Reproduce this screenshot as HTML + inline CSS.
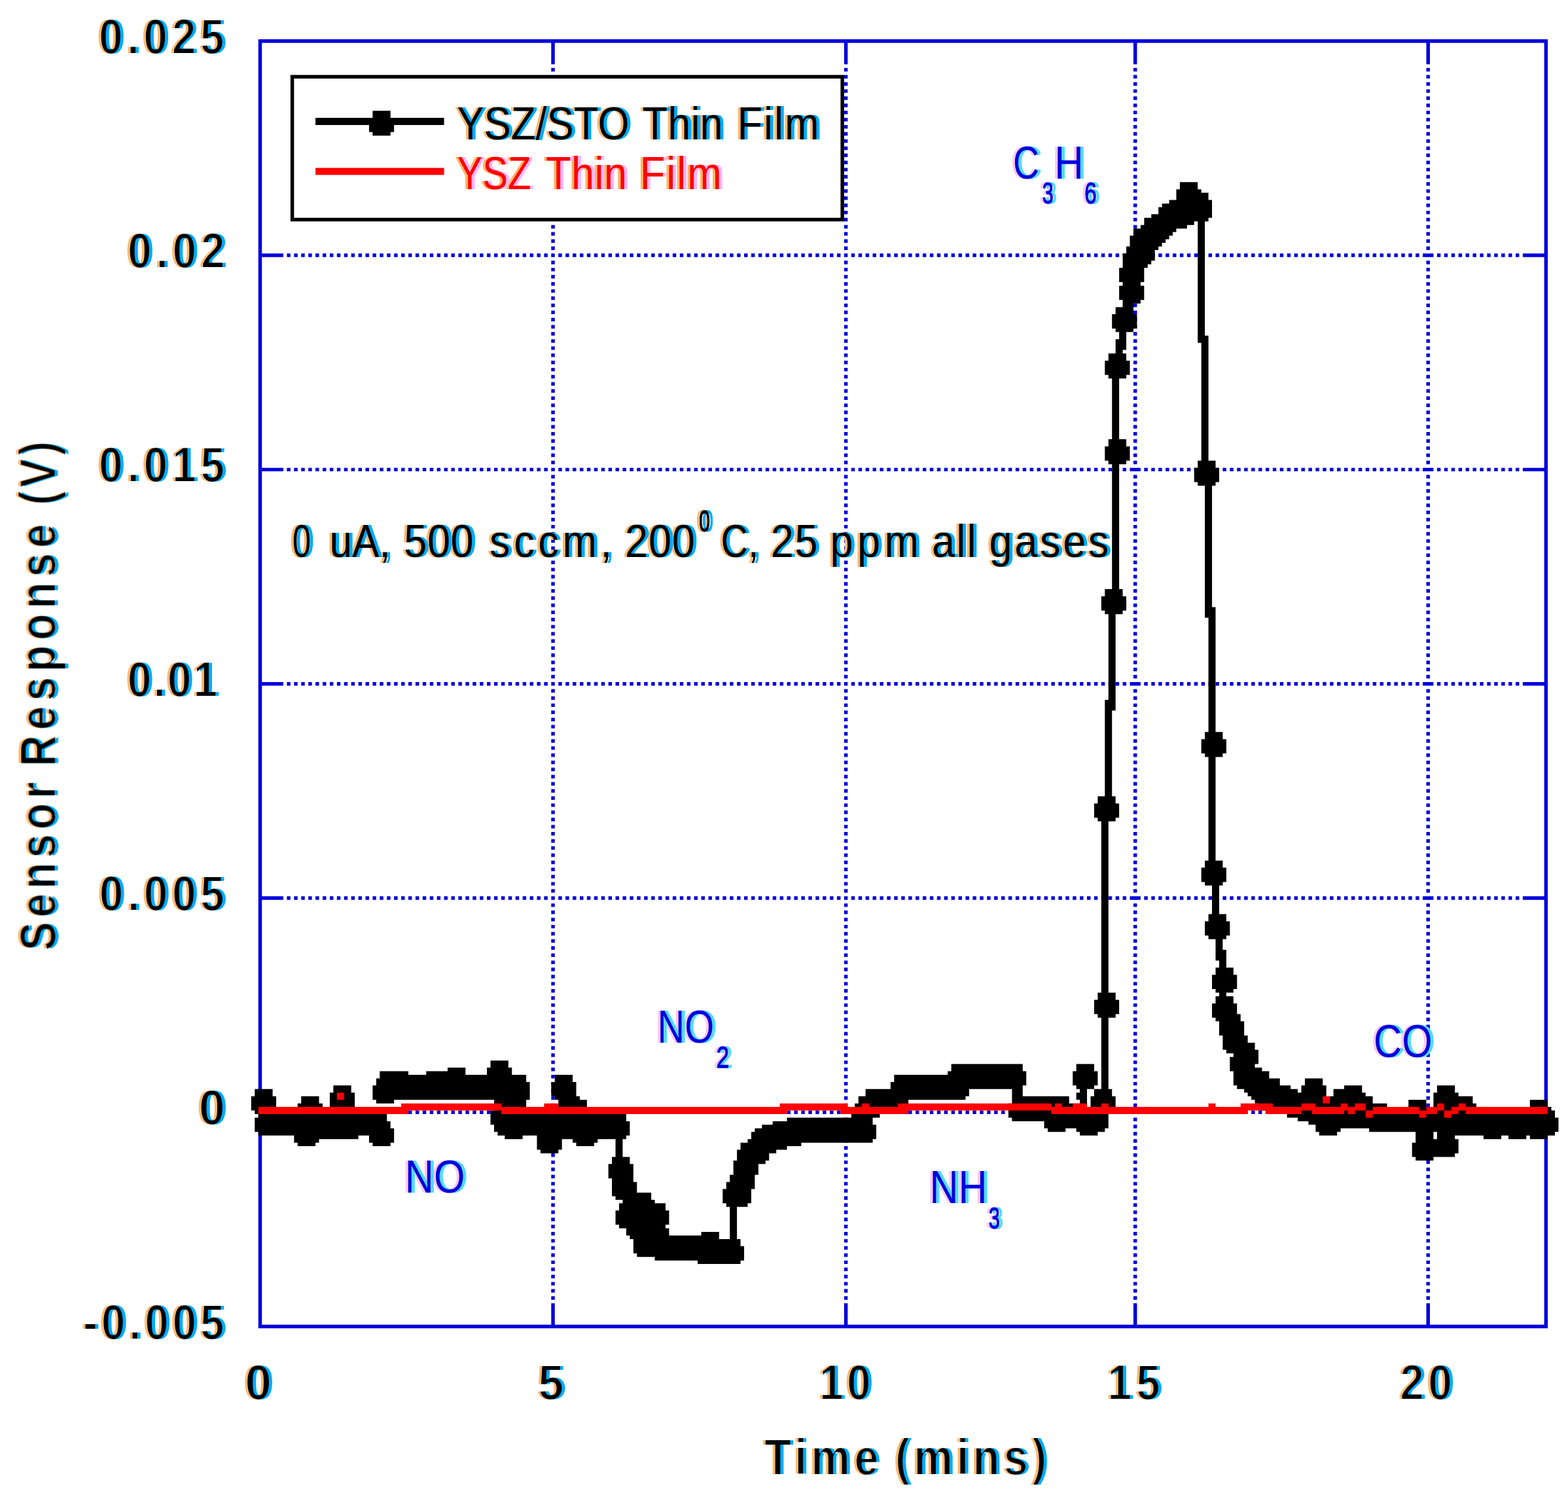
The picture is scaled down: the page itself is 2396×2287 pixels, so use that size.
<!DOCTYPE html>
<html lang="en">
<head>
<meta charset="utf-8">
<title>Sensor Response vs Time</title>
<style>
html, body { margin: 0; padding: 0; background: #fff; }
body { width: 2396px; height: 2287px; }
svg { display: block; }
text { white-space: pre; }
</style>
</head>
<body>
<svg width="2396" height="2287" viewBox="0 0 2396 2287">
<rect x="0" y="0" width="2396" height="2287" fill="#fff"/>
<g transform="translate(1.77,0.03) scale(5.458,5.455)">
<path fill="#0000dc" d="M72 11h361v1h-361zM72 12h1v59h-1zM154 12h1v6h-1zM236 12h1v6h-1zM317 12h1v6h-1zM399 12h1v6h-1zM432 12h1v59h-1zM154 19h1v1h-1zM236 19h1v1h-1zM317 19h1v1h-1zM399 19h1v1h-1zM236 21h1v1h-1zM317 21h1v1h-1zM399 21h1v1h-1zM236 23h1v1h-1zM317 23h1v1h-1zM399 23h1v1h-1zM236 25h1v1h-1zM317 25h1v1h-1zM399 25h1v1h-1zM236 27h1v1h-1zM317 27h1v1h-1zM399 27h1v1h-1zM236 29h1v1h-1zM317 29h1v1h-1zM399 29h1v1h-1zM236 31h1v1h-1zM317 31h1v1h-1zM399 31h1v1h-1zM236 33h1v1h-1zM317 33h1v1h-1zM399 33h1v1h-1zM236 35h1v1h-1zM317 35h1v1h-1zM399 35h1v1h-1zM236 37h1v1h-1zM317 37h1v1h-1zM399 37h1v1h-1zM236 39h1v1h-1zM317 39h1v1h-1zM399 39h1v1h-1zM236 41h1v1h-1zM317 41h1v1h-1zM399 41h1v1h-1zM236 43h1v1h-1zM317 43h1v1h-1zM399 43h1v1h-1zM236 45h1v1h-1zM317 45h1v1h-1zM399 45h1v1h-1zM236 47h1v1h-1zM317 47h1v1h-1zM399 47h1v1h-1zM236 49h1v1h-1zM317 49h1v1h-1zM399 49h1v1h-1zM236 51h1v1h-1zM317 51h1v1h-1zM399 51h1v1h-1zM236 53h1v1h-1zM317 53h1v1h-1zM399 53h1v1h-1zM236 55h1v1h-1zM317 55h1v1h-1zM399 55h1v1h-1zM236 57h1v1h-1zM317 57h1v1h-1zM399 57h1v1h-1zM236 59h1v1h-1zM317 59h1v1h-1zM399 59h1v1h-1zM236 61h1v1h-1zM317 61h1v1h-1zM399 61h1v1h-1zM154 63h1v1h-1zM236 63h1v1h-1zM317 63h1v1h-1zM399 63h1v1h-1zM154 65h1v1h-1zM236 65h1v1h-1zM317 65h1v1h-1zM399 65h1v1h-1zM154 67h1v1h-1zM236 67h1v1h-1zM317 67h1v1h-1zM399 67h1v1h-1zM154 69h1v1h-1zM236 69h1v1h-1zM317 69h1v1h-1zM399 69h1v1h-1zM72 71h7v1h-7zM80 71h1v1h-1zM82 71h1v1h-1zM84 71h1v1h-1zM86 71h1v1h-1zM88 71h1v1h-1zM90 71h1v1h-1zM92 71h1v1h-1zM94 71h1v1h-1zM96 71h1v1h-1zM98 71h1v1h-1zM100 71h1v1h-1zM102 71h1v1h-1zM104 71h1v1h-1zM106 71h1v1h-1zM108 71h1v1h-1zM110 71h1v1h-1zM112 71h1v1h-1zM114 71h1v1h-1zM116 71h1v1h-1zM118 71h1v1h-1zM120 71h1v1h-1zM122 71h1v1h-1zM124 71h1v1h-1zM126 71h1v1h-1zM128 71h1v1h-1zM130 71h1v1h-1zM132 71h1v1h-1zM134 71h1v1h-1zM136 71h1v1h-1zM138 71h1v1h-1zM140 71h1v1h-1zM142 71h1v1h-1zM144 71h1v1h-1zM146 71h1v1h-1zM148 71h1v1h-1zM150 71h1v1h-1zM152 71h1v1h-1zM154 71h1v1h-1zM156 71h1v1h-1zM158 71h1v1h-1zM160 71h1v1h-1zM162 71h1v1h-1zM164 71h1v1h-1zM166 71h1v1h-1zM168 71h1v1h-1zM170 71h1v1h-1zM172 71h1v1h-1zM174 71h1v1h-1zM176 71h1v1h-1zM178 71h1v1h-1zM180 71h1v1h-1zM182 71h1v1h-1zM184 71h1v1h-1zM186 71h1v1h-1zM188 71h1v1h-1zM190 71h1v1h-1zM192 71h1v1h-1zM194 71h1v1h-1zM196 71h1v1h-1zM198 71h1v1h-1zM200 71h1v1h-1zM202 71h1v1h-1zM204 71h1v1h-1zM206 71h1v1h-1zM208 71h1v1h-1zM210 71h1v1h-1zM212 71h1v1h-1zM214 71h1v1h-1zM216 71h1v1h-1zM218 71h1v1h-1zM220 71h1v1h-1zM222 71h1v1h-1zM224 71h1v1h-1zM226 71h1v1h-1zM228 71h1v1h-1zM230 71h1v1h-1zM232 71h1v1h-1zM234 71h1v1h-1zM236 71h1v1h-1zM238 71h1v1h-1zM240 71h1v1h-1zM242 71h1v1h-1zM244 71h1v1h-1zM246 71h1v1h-1zM248 71h1v1h-1zM250 71h1v1h-1zM252 71h1v1h-1zM254 71h1v1h-1zM256 71h1v1h-1zM258 71h1v1h-1zM260 71h1v1h-1zM262 71h1v1h-1zM264 71h1v1h-1zM266 71h1v1h-1zM268 71h1v1h-1zM270 71h1v1h-1zM272 71h1v1h-1zM274 71h1v1h-1zM276 71h1v1h-1zM278 71h1v1h-1zM280 71h1v1h-1zM282 71h1v1h-1zM284 71h1v1h-1zM286 71h1v1h-1zM288 71h1v1h-1zM290 71h1v1h-1zM292 71h1v1h-1zM294 71h1v1h-1zM296 71h1v1h-1zM298 71h1v1h-1zM300 71h1v1h-1zM302 71h1v1h-1zM304 71h1v1h-1zM306 71h1v1h-1zM308 71h1v1h-1zM310 71h1v1h-1zM312 71h1v1h-1zM314 71h1v1h-1zM316 71h3v1h-3zM320 71h1v1h-1zM322 71h1v1h-1zM324 71h1v1h-1zM326 71h1v1h-1zM328 71h1v1h-1zM330 71h1v1h-1zM332 71h1v1h-1zM334 71h1v1h-1zM336 71h1v1h-1zM338 71h1v1h-1zM340 71h1v1h-1zM342 71h1v1h-1zM344 71h1v1h-1zM346 71h1v1h-1zM348 71h1v1h-1zM350 71h1v1h-1zM352 71h1v1h-1zM354 71h1v1h-1zM356 71h1v1h-1zM358 71h1v1h-1zM360 71h1v1h-1zM362 71h1v1h-1zM364 71h1v1h-1zM366 71h1v1h-1zM368 71h1v1h-1zM370 71h1v1h-1zM372 71h1v1h-1zM374 71h1v1h-1zM376 71h1v1h-1zM378 71h1v1h-1zM380 71h1v1h-1zM382 71h1v1h-1zM384 71h1v1h-1zM386 71h1v1h-1zM388 71h1v1h-1zM390 71h1v1h-1zM392 71h1v1h-1zM394 71h1v1h-1zM396 71h1v1h-1zM398 71h3v1h-3zM402 71h1v1h-1zM404 71h1v1h-1zM406 71h1v1h-1zM408 71h1v1h-1zM410 71h1v1h-1zM412 71h1v1h-1zM414 71h1v1h-1zM416 71h1v1h-1zM418 71h1v1h-1zM420 71h1v1h-1zM422 71h1v1h-1zM424 71h1v1h-1zM426 71h7v1h-7zM72 72h1v59h-1zM432 72h1v59h-1zM154 73h1v1h-1zM236 73h1v1h-1zM317 73h1v1h-1zM399 73h1v1h-1zM154 75h1v1h-1zM236 75h1v1h-1zM317 75h1v1h-1zM399 75h1v1h-1zM154 77h1v1h-1zM236 77h1v1h-1zM317 77h1v1h-1zM399 77h1v1h-1zM154 79h1v1h-1zM236 79h1v1h-1zM317 79h1v1h-1zM399 79h1v1h-1zM154 81h1v1h-1zM236 81h1v1h-1zM317 81h1v1h-1zM399 81h1v1h-1zM154 83h1v1h-1zM236 83h1v1h-1zM317 83h1v1h-1zM399 83h1v1h-1zM154 85h1v1h-1zM236 85h1v1h-1zM317 85h1v1h-1zM399 85h1v1h-1zM154 87h1v1h-1zM236 87h1v1h-1zM317 87h1v1h-1zM399 87h1v1h-1zM154 89h1v1h-1zM236 89h1v1h-1zM317 89h1v1h-1zM399 89h1v1h-1zM154 91h1v1h-1zM236 91h1v1h-1zM317 91h1v1h-1zM399 91h1v1h-1zM154 93h1v1h-1zM236 93h1v1h-1zM317 93h1v1h-1zM399 93h1v1h-1zM154 95h1v1h-1zM236 95h1v1h-1zM317 95h1v1h-1zM399 95h1v1h-1zM154 97h1v1h-1zM236 97h1v1h-1zM317 97h1v1h-1zM399 97h1v1h-1zM154 99h1v1h-1zM236 99h1v1h-1zM317 99h1v1h-1zM399 99h1v1h-1zM154 101h1v1h-1zM236 101h1v1h-1zM317 101h1v1h-1zM399 101h1v1h-1zM154 103h1v1h-1zM236 103h1v1h-1zM317 103h1v1h-1zM399 103h1v1h-1zM154 105h1v1h-1zM236 105h1v1h-1zM317 105h1v1h-1zM399 105h1v1h-1zM154 107h1v1h-1zM236 107h1v1h-1zM317 107h1v1h-1zM399 107h1v1h-1zM154 109h1v1h-1zM236 109h1v1h-1zM317 109h1v1h-1zM399 109h1v1h-1zM154 111h1v1h-1zM236 111h1v1h-1zM317 111h1v1h-1zM399 111h1v1h-1zM154 113h1v1h-1zM236 113h1v1h-1zM317 113h1v1h-1zM399 113h1v1h-1zM154 115h1v1h-1zM236 115h1v1h-1zM317 115h1v1h-1zM399 115h1v1h-1zM154 117h1v1h-1zM236 117h1v1h-1zM317 117h1v1h-1zM399 117h1v1h-1zM154 119h1v1h-1zM236 119h1v1h-1zM317 119h1v1h-1zM399 119h1v1h-1zM154 121h1v1h-1zM236 121h1v1h-1zM317 121h1v1h-1zM399 121h1v1h-1zM154 123h1v1h-1zM236 123h1v1h-1zM317 123h1v1h-1zM399 123h1v1h-1zM154 125h1v1h-1zM236 125h1v1h-1zM317 125h1v1h-1zM399 125h1v1h-1zM154 127h1v1h-1zM236 127h1v1h-1zM317 127h1v1h-1zM399 127h1v1h-1zM154 129h1v1h-1zM236 129h1v1h-1zM317 129h1v1h-1zM399 129h1v1h-1zM72 131h7v1h-7zM80 131h1v1h-1zM82 131h1v1h-1zM84 131h1v1h-1zM86 131h1v1h-1zM88 131h1v1h-1zM90 131h1v1h-1zM92 131h1v1h-1zM94 131h1v1h-1zM96 131h1v1h-1zM98 131h1v1h-1zM100 131h1v1h-1zM102 131h1v1h-1zM104 131h1v1h-1zM106 131h1v1h-1zM108 131h1v1h-1zM110 131h1v1h-1zM112 131h1v1h-1zM114 131h1v1h-1zM116 131h1v1h-1zM118 131h1v1h-1zM120 131h1v1h-1zM122 131h1v1h-1zM124 131h1v1h-1zM126 131h1v1h-1zM128 131h1v1h-1zM130 131h1v1h-1zM132 131h1v1h-1zM134 131h1v1h-1zM136 131h1v1h-1zM138 131h1v1h-1zM140 131h1v1h-1zM142 131h1v1h-1zM144 131h1v1h-1zM146 131h1v1h-1zM148 131h1v1h-1zM150 131h1v1h-1zM152 131h1v1h-1zM154 131h1v1h-1zM156 131h1v1h-1zM158 131h1v1h-1zM160 131h1v1h-1zM162 131h1v1h-1zM164 131h1v1h-1zM166 131h1v1h-1zM168 131h1v1h-1zM170 131h1v1h-1zM172 131h1v1h-1zM174 131h1v1h-1zM176 131h1v1h-1zM178 131h1v1h-1zM180 131h1v1h-1zM182 131h1v1h-1zM184 131h1v1h-1zM186 131h1v1h-1zM188 131h1v1h-1zM190 131h1v1h-1zM192 131h1v1h-1zM194 131h1v1h-1zM196 131h1v1h-1zM198 131h1v1h-1zM200 131h1v1h-1zM202 131h1v1h-1zM204 131h1v1h-1zM206 131h1v1h-1zM208 131h1v1h-1zM210 131h1v1h-1zM212 131h1v1h-1zM214 131h1v1h-1zM216 131h1v1h-1zM218 131h1v1h-1zM220 131h1v1h-1zM222 131h1v1h-1zM224 131h1v1h-1zM226 131h1v1h-1zM228 131h1v1h-1zM230 131h1v1h-1zM232 131h1v1h-1zM234 131h1v1h-1zM236 131h1v1h-1zM238 131h1v1h-1zM240 131h1v1h-1zM242 131h1v1h-1zM244 131h1v1h-1zM246 131h1v1h-1zM248 131h1v1h-1zM250 131h1v1h-1zM252 131h1v1h-1zM254 131h1v1h-1zM256 131h1v1h-1zM258 131h1v1h-1zM260 131h1v1h-1zM262 131h1v1h-1zM264 131h1v1h-1zM266 131h1v1h-1zM268 131h1v1h-1zM270 131h1v1h-1zM272 131h1v1h-1zM274 131h1v1h-1zM276 131h1v1h-1zM278 131h1v1h-1zM280 131h1v1h-1zM282 131h1v1h-1zM284 131h1v1h-1zM286 131h1v1h-1zM288 131h1v1h-1zM290 131h1v1h-1zM292 131h1v1h-1zM294 131h1v1h-1zM296 131h1v1h-1zM298 131h1v1h-1zM300 131h1v1h-1zM302 131h1v1h-1zM304 131h1v1h-1zM306 131h1v1h-1zM308 131h1v1h-1zM310 131h1v1h-1zM312 131h1v1h-1zM314 131h1v1h-1zM316 131h3v1h-3zM320 131h1v1h-1zM322 131h1v1h-1zM324 131h1v1h-1zM326 131h1v1h-1zM328 131h1v1h-1zM330 131h1v1h-1zM332 131h1v1h-1zM334 131h1v1h-1zM336 131h1v1h-1zM338 131h1v1h-1zM340 131h1v1h-1zM342 131h1v1h-1zM344 131h1v1h-1zM346 131h1v1h-1zM348 131h1v1h-1zM350 131h1v1h-1zM352 131h1v1h-1zM354 131h1v1h-1zM356 131h1v1h-1zM358 131h1v1h-1zM360 131h1v1h-1zM362 131h1v1h-1zM364 131h1v1h-1zM366 131h1v1h-1zM368 131h1v1h-1zM370 131h1v1h-1zM372 131h1v1h-1zM374 131h1v1h-1zM376 131h1v1h-1zM378 131h1v1h-1zM380 131h1v1h-1zM382 131h1v1h-1zM384 131h1v1h-1zM386 131h1v1h-1zM388 131h1v1h-1zM390 131h1v1h-1zM392 131h1v1h-1zM394 131h1v1h-1zM396 131h1v1h-1zM398 131h3v1h-3zM402 131h1v1h-1zM404 131h1v1h-1zM406 131h1v1h-1zM408 131h1v1h-1zM410 131h1v1h-1zM412 131h1v1h-1zM414 131h1v1h-1zM416 131h1v1h-1zM418 131h1v1h-1zM420 131h1v1h-1zM422 131h1v1h-1zM424 131h1v1h-1zM426 131h7v1h-7zM72 132h1v59h-1zM432 132h1v59h-1zM154 133h1v1h-1zM236 133h1v1h-1zM317 133h1v1h-1zM399 133h1v1h-1zM154 135h1v1h-1zM236 135h1v1h-1zM317 135h1v1h-1zM399 135h1v1h-1zM154 137h1v1h-1zM236 137h1v1h-1zM317 137h1v1h-1zM399 137h1v1h-1zM154 139h1v1h-1zM236 139h1v1h-1zM317 139h1v1h-1zM399 139h1v1h-1zM154 141h1v1h-1zM236 141h1v1h-1zM317 141h1v1h-1zM399 141h1v1h-1zM154 143h1v1h-1zM236 143h1v1h-1zM317 143h1v1h-1zM399 143h1v1h-1zM154 145h1v1h-1zM236 145h1v1h-1zM317 145h1v1h-1zM399 145h1v1h-1zM154 147h1v1h-1zM236 147h1v1h-1zM317 147h1v1h-1zM399 147h1v1h-1zM154 149h1v1h-1zM236 149h1v1h-1zM317 149h1v1h-1zM399 149h1v1h-1zM154 151h1v1h-1zM236 151h1v1h-1zM317 151h1v1h-1zM399 151h1v1h-1zM154 153h1v1h-1zM236 153h1v1h-1zM317 153h1v1h-1zM399 153h1v1h-1zM154 155h1v1h-1zM236 155h1v1h-1zM317 155h1v1h-1zM399 155h1v1h-1zM154 157h1v1h-1zM236 157h1v1h-1zM317 157h1v1h-1zM399 157h1v1h-1zM154 159h1v1h-1zM236 159h1v1h-1zM317 159h1v1h-1zM399 159h1v1h-1zM154 161h1v1h-1zM236 161h1v1h-1zM317 161h1v1h-1zM399 161h1v1h-1zM154 163h1v1h-1zM236 163h1v1h-1zM317 163h1v1h-1zM399 163h1v1h-1zM154 165h1v1h-1zM236 165h1v1h-1zM317 165h1v1h-1zM399 165h1v1h-1zM154 167h1v1h-1zM236 167h1v1h-1zM317 167h1v1h-1zM399 167h1v1h-1zM154 169h1v1h-1zM236 169h1v1h-1zM317 169h1v1h-1zM399 169h1v1h-1zM154 171h1v1h-1zM236 171h1v1h-1zM317 171h1v1h-1zM399 171h1v1h-1zM154 173h1v1h-1zM236 173h1v1h-1zM317 173h1v1h-1zM399 173h1v1h-1zM154 175h1v1h-1zM236 175h1v1h-1zM317 175h1v1h-1zM399 175h1v1h-1zM154 177h1v1h-1zM236 177h1v1h-1zM317 177h1v1h-1zM399 177h1v1h-1zM154 179h1v1h-1zM236 179h1v1h-1zM317 179h1v1h-1zM399 179h1v1h-1zM154 181h1v1h-1zM236 181h1v1h-1zM317 181h1v1h-1zM399 181h1v1h-1zM154 183h1v1h-1zM236 183h1v1h-1zM317 183h1v1h-1zM399 183h1v1h-1zM154 185h1v1h-1zM236 185h1v1h-1zM317 185h1v1h-1zM399 185h1v1h-1zM154 187h1v1h-1zM236 187h1v1h-1zM317 187h1v1h-1zM399 187h1v1h-1zM154 189h1v1h-1zM236 189h1v1h-1zM317 189h1v1h-1zM399 189h1v1h-1zM72 191h7v1h-7zM80 191h1v1h-1zM82 191h1v1h-1zM84 191h1v1h-1zM86 191h1v1h-1zM88 191h1v1h-1zM90 191h1v1h-1zM92 191h1v1h-1zM94 191h1v1h-1zM96 191h1v1h-1zM98 191h1v1h-1zM100 191h1v1h-1zM102 191h1v1h-1zM104 191h1v1h-1zM106 191h1v1h-1zM108 191h1v1h-1zM110 191h1v1h-1zM112 191h1v1h-1zM114 191h1v1h-1zM116 191h1v1h-1zM118 191h1v1h-1zM120 191h1v1h-1zM122 191h1v1h-1zM124 191h1v1h-1zM126 191h1v1h-1zM128 191h1v1h-1zM130 191h1v1h-1zM132 191h1v1h-1zM134 191h1v1h-1zM136 191h1v1h-1zM138 191h1v1h-1zM140 191h1v1h-1zM142 191h1v1h-1zM144 191h1v1h-1zM146 191h1v1h-1zM148 191h1v1h-1zM150 191h1v1h-1zM152 191h1v1h-1zM154 191h1v1h-1zM156 191h1v1h-1zM158 191h1v1h-1zM160 191h1v1h-1zM162 191h1v1h-1zM164 191h1v1h-1zM166 191h1v1h-1zM168 191h1v1h-1zM170 191h1v1h-1zM172 191h1v1h-1zM174 191h1v1h-1zM176 191h1v1h-1zM178 191h1v1h-1zM180 191h1v1h-1zM182 191h1v1h-1zM184 191h1v1h-1zM186 191h1v1h-1zM188 191h1v1h-1zM190 191h1v1h-1zM192 191h1v1h-1zM194 191h1v1h-1zM196 191h1v1h-1zM198 191h1v1h-1zM200 191h1v1h-1zM202 191h1v1h-1zM204 191h1v1h-1zM206 191h1v1h-1zM208 191h1v1h-1zM210 191h1v1h-1zM212 191h1v1h-1zM214 191h1v1h-1zM216 191h1v1h-1zM218 191h1v1h-1zM220 191h1v1h-1zM222 191h1v1h-1zM224 191h1v1h-1zM226 191h1v1h-1zM228 191h1v1h-1zM230 191h1v1h-1zM232 191h1v1h-1zM234 191h1v1h-1zM236 191h1v1h-1zM238 191h1v1h-1zM240 191h1v1h-1zM242 191h1v1h-1zM244 191h1v1h-1zM246 191h1v1h-1zM248 191h1v1h-1zM250 191h1v1h-1zM252 191h1v1h-1zM254 191h1v1h-1zM256 191h1v1h-1zM258 191h1v1h-1zM260 191h1v1h-1zM262 191h1v1h-1zM264 191h1v1h-1zM266 191h1v1h-1zM268 191h1v1h-1zM270 191h1v1h-1zM272 191h1v1h-1zM274 191h1v1h-1zM276 191h1v1h-1zM278 191h1v1h-1zM280 191h1v1h-1zM282 191h1v1h-1zM284 191h1v1h-1zM286 191h1v1h-1zM288 191h1v1h-1zM290 191h1v1h-1zM292 191h1v1h-1zM294 191h1v1h-1zM296 191h1v1h-1zM298 191h1v1h-1zM300 191h1v1h-1zM302 191h1v1h-1zM304 191h1v1h-1zM306 191h1v1h-1zM308 191h1v1h-1zM310 191h1v1h-1zM312 191h1v1h-1zM314 191h1v1h-1zM316 191h3v1h-3zM320 191h1v1h-1zM322 191h1v1h-1zM324 191h1v1h-1zM326 191h1v1h-1zM328 191h1v1h-1zM330 191h1v1h-1zM332 191h1v1h-1zM334 191h1v1h-1zM336 191h1v1h-1zM338 191h1v1h-1zM340 191h1v1h-1zM342 191h1v1h-1zM344 191h1v1h-1zM346 191h1v1h-1zM348 191h1v1h-1zM350 191h1v1h-1zM352 191h1v1h-1zM354 191h1v1h-1zM356 191h1v1h-1zM358 191h1v1h-1zM360 191h1v1h-1zM362 191h1v1h-1zM364 191h1v1h-1zM366 191h1v1h-1zM368 191h1v1h-1zM370 191h1v1h-1zM372 191h1v1h-1zM374 191h1v1h-1zM376 191h1v1h-1zM378 191h1v1h-1zM380 191h1v1h-1zM382 191h1v1h-1zM384 191h1v1h-1zM386 191h1v1h-1zM388 191h1v1h-1zM390 191h1v1h-1zM392 191h1v1h-1zM394 191h1v1h-1zM396 191h1v1h-1zM398 191h3v1h-3zM402 191h1v1h-1zM404 191h1v1h-1zM406 191h1v1h-1zM408 191h1v1h-1zM410 191h1v1h-1zM412 191h1v1h-1zM414 191h1v1h-1zM416 191h1v1h-1zM418 191h1v1h-1zM420 191h1v1h-1zM422 191h1v1h-1zM424 191h1v1h-1zM426 191h7v1h-7zM72 192h1v59h-1zM432 192h1v59h-1zM154 193h1v1h-1zM236 193h1v1h-1zM317 193h1v1h-1zM399 193h1v1h-1zM154 195h1v1h-1zM236 195h1v1h-1zM317 195h1v1h-1zM399 195h1v1h-1zM154 197h1v1h-1zM236 197h1v1h-1zM317 197h1v1h-1zM399 197h1v1h-1zM154 199h1v1h-1zM236 199h1v1h-1zM317 199h1v1h-1zM399 199h1v1h-1zM154 201h1v1h-1zM236 201h1v1h-1zM317 201h1v1h-1zM399 201h1v1h-1zM154 203h1v1h-1zM236 203h1v1h-1zM317 203h1v1h-1zM399 203h1v1h-1zM154 205h1v1h-1zM236 205h1v1h-1zM317 205h1v1h-1zM399 205h1v1h-1zM154 207h1v1h-1zM236 207h1v1h-1zM317 207h1v1h-1zM399 207h1v1h-1zM154 209h1v1h-1zM236 209h1v1h-1zM317 209h1v1h-1zM399 209h1v1h-1zM154 211h1v1h-1zM236 211h1v1h-1zM317 211h1v1h-1zM399 211h1v1h-1zM154 213h1v1h-1zM236 213h1v1h-1zM317 213h1v1h-1zM399 213h1v1h-1zM154 215h1v1h-1zM236 215h1v1h-1zM317 215h1v1h-1zM399 215h1v1h-1zM154 217h1v1h-1zM236 217h1v1h-1zM317 217h1v1h-1zM399 217h1v1h-1zM154 219h1v1h-1zM236 219h1v1h-1zM317 219h1v1h-1zM399 219h1v1h-1zM154 221h1v1h-1zM236 221h1v1h-1zM317 221h1v1h-1zM399 221h1v1h-1zM154 223h1v1h-1zM236 223h1v1h-1zM317 223h1v1h-1zM399 223h1v1h-1zM154 225h1v1h-1zM236 225h1v1h-1zM317 225h1v1h-1zM399 225h1v1h-1zM154 227h1v1h-1zM236 227h1v1h-1zM317 227h1v1h-1zM399 227h1v1h-1zM154 229h1v1h-1zM236 229h1v1h-1zM317 229h1v1h-1zM399 229h1v1h-1zM154 231h1v1h-1zM236 231h1v1h-1zM317 231h1v1h-1zM399 231h1v1h-1zM154 233h1v1h-1zM236 233h1v1h-1zM317 233h1v1h-1zM399 233h1v1h-1zM154 235h1v1h-1zM236 235h1v1h-1zM317 235h1v1h-1zM399 235h1v1h-1zM154 237h1v1h-1zM236 237h1v1h-1zM317 237h1v1h-1zM399 237h1v1h-1zM154 239h1v1h-1zM236 239h1v1h-1zM317 239h1v1h-1zM399 239h1v1h-1zM154 241h1v1h-1zM236 241h1v1h-1zM317 241h1v1h-1zM399 241h1v1h-1zM154 243h1v1h-1zM236 243h1v1h-1zM317 243h1v1h-1zM399 243h1v1h-1zM154 245h1v1h-1zM236 245h1v1h-1zM317 245h1v1h-1zM399 245h1v1h-1zM154 247h1v1h-1zM236 247h1v1h-1zM317 247h1v1h-1zM399 247h1v1h-1zM154 249h1v1h-1zM236 249h1v1h-1zM317 249h1v1h-1zM399 249h1v1h-1zM72 251h7v1h-7zM80 251h1v1h-1zM82 251h1v1h-1zM84 251h1v1h-1zM86 251h1v1h-1zM88 251h1v1h-1zM90 251h1v1h-1zM92 251h1v1h-1zM94 251h1v1h-1zM96 251h1v1h-1zM98 251h1v1h-1zM100 251h1v1h-1zM102 251h1v1h-1zM104 251h1v1h-1zM106 251h1v1h-1zM108 251h1v1h-1zM110 251h1v1h-1zM112 251h1v1h-1zM114 251h1v1h-1zM116 251h1v1h-1zM118 251h1v1h-1zM120 251h1v1h-1zM122 251h1v1h-1zM124 251h1v1h-1zM126 251h1v1h-1zM128 251h1v1h-1zM130 251h1v1h-1zM132 251h1v1h-1zM134 251h1v1h-1zM136 251h1v1h-1zM138 251h1v1h-1zM140 251h1v1h-1zM142 251h1v1h-1zM144 251h1v1h-1zM146 251h1v1h-1zM148 251h1v1h-1zM150 251h1v1h-1zM152 251h1v1h-1zM154 251h1v1h-1zM156 251h1v1h-1zM158 251h1v1h-1zM160 251h1v1h-1zM162 251h1v1h-1zM164 251h1v1h-1zM166 251h1v1h-1zM168 251h1v1h-1zM170 251h1v1h-1zM172 251h1v1h-1zM174 251h1v1h-1zM176 251h1v1h-1zM178 251h1v1h-1zM180 251h1v1h-1zM182 251h1v1h-1zM184 251h1v1h-1zM186 251h1v1h-1zM188 251h1v1h-1zM190 251h1v1h-1zM192 251h1v1h-1zM194 251h1v1h-1zM196 251h1v1h-1zM198 251h1v1h-1zM200 251h1v1h-1zM202 251h1v1h-1zM204 251h1v1h-1zM206 251h1v1h-1zM208 251h1v1h-1zM210 251h1v1h-1zM212 251h1v1h-1zM214 251h1v1h-1zM216 251h1v1h-1zM218 251h1v1h-1zM220 251h1v1h-1zM222 251h1v1h-1zM224 251h1v1h-1zM226 251h1v1h-1zM228 251h1v1h-1zM230 251h1v1h-1zM232 251h1v1h-1zM234 251h1v1h-1zM236 251h1v1h-1zM238 251h1v1h-1zM240 251h1v1h-1zM242 251h1v1h-1zM244 251h1v1h-1zM246 251h1v1h-1zM248 251h1v1h-1zM250 251h1v1h-1zM252 251h1v1h-1zM254 251h1v1h-1zM256 251h1v1h-1zM258 251h1v1h-1zM260 251h1v1h-1zM262 251h1v1h-1zM264 251h1v1h-1zM266 251h1v1h-1zM268 251h1v1h-1zM270 251h1v1h-1zM272 251h1v1h-1zM274 251h1v1h-1zM276 251h1v1h-1zM278 251h1v1h-1zM280 251h1v1h-1zM282 251h1v1h-1zM284 251h1v1h-1zM286 251h1v1h-1zM288 251h1v1h-1zM290 251h1v1h-1zM292 251h1v1h-1zM294 251h1v1h-1zM296 251h1v1h-1zM298 251h1v1h-1zM300 251h1v1h-1zM302 251h1v1h-1zM304 251h1v1h-1zM306 251h1v1h-1zM308 251h1v1h-1zM310 251h1v1h-1zM312 251h1v1h-1zM314 251h1v1h-1zM316 251h3v1h-3zM320 251h1v1h-1zM322 251h1v1h-1zM324 251h1v1h-1zM326 251h1v1h-1zM328 251h1v1h-1zM330 251h1v1h-1zM332 251h1v1h-1zM334 251h1v1h-1zM336 251h1v1h-1zM338 251h1v1h-1zM340 251h1v1h-1zM342 251h1v1h-1zM344 251h1v1h-1zM346 251h1v1h-1zM348 251h1v1h-1zM350 251h1v1h-1zM352 251h1v1h-1zM354 251h1v1h-1zM356 251h1v1h-1zM358 251h1v1h-1zM360 251h1v1h-1zM362 251h1v1h-1zM364 251h1v1h-1zM366 251h1v1h-1zM368 251h1v1h-1zM370 251h1v1h-1zM372 251h1v1h-1zM374 251h1v1h-1zM376 251h1v1h-1zM378 251h1v1h-1zM380 251h1v1h-1zM382 251h1v1h-1zM384 251h1v1h-1zM386 251h1v1h-1zM388 251h1v1h-1zM390 251h1v1h-1zM392 251h1v1h-1zM394 251h1v1h-1zM396 251h1v1h-1zM398 251h3v1h-3zM402 251h1v1h-1zM404 251h1v1h-1zM406 251h1v1h-1zM408 251h1v1h-1zM410 251h1v1h-1zM412 251h1v1h-1zM414 251h1v1h-1zM416 251h1v1h-1zM418 251h1v1h-1zM420 251h1v1h-1zM422 251h1v1h-1zM424 251h1v1h-1zM426 251h7v1h-7zM72 252h1v59h-1zM432 252h1v59h-1zM154 253h1v1h-1zM236 253h1v1h-1zM317 253h1v1h-1zM399 253h1v1h-1zM154 255h1v1h-1zM236 255h1v1h-1zM317 255h1v1h-1zM399 255h1v1h-1zM154 257h1v1h-1zM236 257h1v1h-1zM317 257h1v1h-1zM399 257h1v1h-1zM154 259h1v1h-1zM236 259h1v1h-1zM317 259h1v1h-1zM399 259h1v1h-1zM154 261h1v1h-1zM236 261h1v1h-1zM317 261h1v1h-1zM399 261h1v1h-1zM154 263h1v1h-1zM236 263h1v1h-1zM317 263h1v1h-1zM399 263h1v1h-1zM154 265h1v1h-1zM236 265h1v1h-1zM317 265h1v1h-1zM399 265h1v1h-1zM154 267h1v1h-1zM236 267h1v1h-1zM317 267h1v1h-1zM399 267h1v1h-1zM154 269h1v1h-1zM236 269h1v1h-1zM317 269h1v1h-1zM399 269h1v1h-1zM154 271h1v1h-1zM236 271h1v1h-1zM317 271h1v1h-1zM399 271h1v1h-1zM154 273h1v1h-1zM236 273h1v1h-1zM317 273h1v1h-1zM399 273h1v1h-1zM154 275h1v1h-1zM236 275h1v1h-1zM317 275h1v1h-1zM399 275h1v1h-1zM154 277h1v1h-1zM236 277h1v1h-1zM317 277h1v1h-1zM399 277h1v1h-1zM154 279h1v1h-1zM236 279h1v1h-1zM317 279h1v1h-1zM399 279h1v1h-1zM154 281h1v1h-1zM236 281h1v1h-1zM317 281h1v1h-1zM399 281h1v1h-1zM154 283h1v1h-1zM236 283h1v1h-1zM317 283h1v1h-1zM399 283h1v1h-1zM154 285h1v1h-1zM236 285h1v1h-1zM317 285h1v1h-1zM399 285h1v1h-1zM154 287h1v1h-1zM236 287h1v1h-1zM317 287h1v1h-1zM399 287h1v1h-1zM154 289h1v1h-1zM236 289h1v1h-1zM317 289h1v1h-1zM399 289h1v1h-1zM154 291h1v1h-1zM236 291h1v1h-1zM317 291h1v1h-1zM399 291h1v1h-1zM154 293h1v1h-1zM236 293h1v1h-1zM317 293h1v1h-1zM399 293h1v1h-1zM154 295h1v1h-1zM236 295h1v1h-1zM317 295h1v1h-1zM399 295h1v1h-1zM154 297h1v1h-1zM236 297h1v1h-1zM317 297h1v1h-1zM399 297h1v1h-1zM154 299h1v1h-1zM236 299h1v1h-1zM317 299h1v1h-1zM399 299h1v1h-1zM154 301h1v1h-1zM236 301h1v1h-1zM317 301h1v1h-1zM399 301h1v1h-1zM154 303h1v1h-1zM236 303h1v1h-1zM317 303h1v1h-1zM399 303h1v1h-1zM154 305h1v1h-1zM236 305h1v1h-1zM317 305h1v1h-1zM399 305h1v1h-1zM154 307h1v1h-1zM236 307h1v1h-1zM317 307h1v1h-1zM399 307h1v1h-1zM154 309h1v1h-1zM236 309h1v1h-1zM317 309h1v1h-1zM399 309h1v1h-1zM72 311h7v1h-7zM80 311h1v1h-1zM82 311h1v1h-1zM84 311h1v1h-1zM86 311h1v1h-1zM88 311h1v1h-1zM90 311h1v1h-1zM92 311h1v1h-1zM94 311h1v1h-1zM96 311h1v1h-1zM98 311h1v1h-1zM100 311h1v1h-1zM102 311h1v1h-1zM104 311h1v1h-1zM106 311h1v1h-1zM108 311h1v1h-1zM110 311h1v1h-1zM112 311h1v1h-1zM114 311h1v1h-1zM116 311h1v1h-1zM118 311h1v1h-1zM120 311h1v1h-1zM122 311h1v1h-1zM124 311h1v1h-1zM126 311h1v1h-1zM128 311h1v1h-1zM130 311h1v1h-1zM132 311h1v1h-1zM134 311h1v1h-1zM136 311h1v1h-1zM138 311h1v1h-1zM140 311h1v1h-1zM142 311h1v1h-1zM144 311h1v1h-1zM146 311h1v1h-1zM148 311h1v1h-1zM150 311h1v1h-1zM152 311h1v1h-1zM154 311h1v1h-1zM156 311h1v1h-1zM158 311h1v1h-1zM160 311h1v1h-1zM162 311h1v1h-1zM164 311h1v1h-1zM166 311h1v1h-1zM168 311h1v1h-1zM170 311h1v1h-1zM172 311h1v1h-1zM174 311h1v1h-1zM176 311h1v1h-1zM178 311h1v1h-1zM180 311h1v1h-1zM182 311h1v1h-1zM184 311h1v1h-1zM186 311h1v1h-1zM188 311h1v1h-1zM190 311h1v1h-1zM192 311h1v1h-1zM194 311h1v1h-1zM196 311h1v1h-1zM198 311h1v1h-1zM200 311h1v1h-1zM202 311h1v1h-1zM204 311h1v1h-1zM206 311h1v1h-1zM208 311h1v1h-1zM210 311h1v1h-1zM212 311h1v1h-1zM214 311h1v1h-1zM216 311h1v1h-1zM218 311h1v1h-1zM220 311h1v1h-1zM222 311h1v1h-1zM224 311h1v1h-1zM226 311h1v1h-1zM228 311h1v1h-1zM230 311h1v1h-1zM232 311h1v1h-1zM234 311h1v1h-1zM236 311h1v1h-1zM238 311h1v1h-1zM240 311h1v1h-1zM242 311h1v1h-1zM244 311h1v1h-1zM246 311h1v1h-1zM248 311h1v1h-1zM250 311h1v1h-1zM252 311h1v1h-1zM254 311h1v1h-1zM256 311h1v1h-1zM258 311h1v1h-1zM260 311h1v1h-1zM262 311h1v1h-1zM264 311h1v1h-1zM266 311h1v1h-1zM268 311h1v1h-1zM270 311h1v1h-1zM272 311h1v1h-1zM274 311h1v1h-1zM276 311h1v1h-1zM278 311h1v1h-1zM280 311h1v1h-1zM282 311h1v1h-1zM284 311h1v1h-1zM286 311h1v1h-1zM288 311h1v1h-1zM290 311h1v1h-1zM292 311h1v1h-1zM294 311h1v1h-1zM296 311h1v1h-1zM298 311h1v1h-1zM300 311h1v1h-1zM302 311h1v1h-1zM304 311h1v1h-1zM306 311h1v1h-1zM308 311h1v1h-1zM310 311h1v1h-1zM312 311h1v1h-1zM314 311h1v1h-1zM316 311h3v1h-3zM320 311h1v1h-1zM322 311h1v1h-1zM324 311h1v1h-1zM326 311h1v1h-1zM328 311h1v1h-1zM330 311h1v1h-1zM332 311h1v1h-1zM334 311h1v1h-1zM336 311h1v1h-1zM338 311h1v1h-1zM340 311h1v1h-1zM342 311h1v1h-1zM344 311h1v1h-1zM346 311h1v1h-1zM348 311h1v1h-1zM350 311h1v1h-1zM352 311h1v1h-1zM354 311h1v1h-1zM356 311h1v1h-1zM358 311h1v1h-1zM360 311h1v1h-1zM362 311h1v1h-1zM364 311h1v1h-1zM366 311h1v1h-1zM368 311h1v1h-1zM370 311h1v1h-1zM372 311h1v1h-1zM374 311h1v1h-1zM376 311h1v1h-1zM378 311h1v1h-1zM380 311h1v1h-1zM382 311h1v1h-1zM384 311h1v1h-1zM386 311h1v1h-1zM388 311h1v1h-1zM390 311h1v1h-1zM392 311h1v1h-1zM394 311h1v1h-1zM396 311h1v1h-1zM398 311h3v1h-3zM402 311h1v1h-1zM404 311h1v1h-1zM406 311h1v1h-1zM408 311h1v1h-1zM410 311h1v1h-1zM412 311h1v1h-1zM414 311h1v1h-1zM416 311h1v1h-1zM418 311h1v1h-1zM420 311h1v1h-1zM422 311h1v1h-1zM424 311h1v1h-1zM426 311h7v1h-7zM72 312h1v59h-1zM432 312h1v59h-1zM154 313h1v1h-1zM236 313h1v1h-1zM317 313h1v1h-1zM399 313h1v1h-1zM154 315h1v1h-1zM236 315h1v1h-1zM317 315h1v1h-1zM399 315h1v1h-1zM154 317h1v1h-1zM236 317h1v1h-1zM317 317h1v1h-1zM399 317h1v1h-1zM154 319h1v1h-1zM236 319h1v1h-1zM317 319h1v1h-1zM399 319h1v1h-1zM154 321h1v1h-1zM236 321h1v1h-1zM317 321h1v1h-1zM399 321h1v1h-1zM154 323h1v1h-1zM236 323h1v1h-1zM317 323h1v1h-1zM399 323h1v1h-1zM154 325h1v1h-1zM236 325h1v1h-1zM317 325h1v1h-1zM399 325h1v1h-1zM154 327h1v1h-1zM236 327h1v1h-1zM317 327h1v1h-1zM399 327h1v1h-1zM154 329h1v1h-1zM236 329h1v1h-1zM317 329h1v1h-1zM399 329h1v1h-1zM154 331h1v1h-1zM236 331h1v1h-1zM317 331h1v1h-1zM399 331h1v1h-1zM154 333h1v1h-1zM236 333h1v1h-1zM317 333h1v1h-1zM399 333h1v1h-1zM154 335h1v1h-1zM236 335h1v1h-1zM317 335h1v1h-1zM399 335h1v1h-1zM154 337h1v1h-1zM236 337h1v1h-1zM317 337h1v1h-1zM399 337h1v1h-1zM154 339h1v1h-1zM236 339h1v1h-1zM317 339h1v1h-1zM399 339h1v1h-1zM154 341h1v1h-1zM236 341h1v1h-1zM317 341h1v1h-1zM399 341h1v1h-1zM154 343h1v1h-1zM236 343h1v1h-1zM317 343h1v1h-1zM399 343h1v1h-1zM154 345h1v1h-1zM236 345h1v1h-1zM317 345h1v1h-1zM399 345h1v1h-1zM154 347h1v1h-1zM236 347h1v1h-1zM317 347h1v1h-1zM399 347h1v1h-1zM154 349h1v1h-1zM236 349h1v1h-1zM317 349h1v1h-1zM399 349h1v1h-1zM154 351h1v1h-1zM236 351h1v1h-1zM317 351h1v1h-1zM399 351h1v1h-1zM154 353h1v1h-1zM236 353h1v1h-1zM317 353h1v1h-1zM399 353h1v1h-1zM154 355h1v1h-1zM236 355h1v1h-1zM317 355h1v1h-1zM399 355h1v1h-1zM154 357h1v1h-1zM236 357h1v1h-1zM317 357h1v1h-1zM399 357h1v1h-1zM154 359h1v1h-1zM236 359h1v1h-1zM317 359h1v1h-1zM399 359h1v1h-1zM154 361h1v1h-1zM236 361h1v1h-1zM317 361h1v1h-1zM399 361h1v1h-1zM154 363h1v1h-1zM236 363h1v1h-1zM317 363h1v1h-1zM399 363h1v1h-1zM154 365h1v6h-1zM236 365h1v6h-1zM317 365h1v6h-1zM399 365h1v6h-1zM72 371h361v1h-361z"/>
<path fill="#000" d="M330 51h5v2h-5zM329 53h7v1h-7zM329 54h9v2h-9zM327 56h12v1h-12zM325 57h14v1h-14zM324 58h15v2h-15zM322 60h17v1h-17zM320 61h18v1h-18zM320 62h14v1h-14zM335 62h2v32h-2zM319 63h13v1h-13zM317 64h12v1h-12zM317 65h11v1h-11zM316 66h11v1h-11zM316 67h10v1h-10zM316 68h9v1h-9zM315 69h9v1h-9zM315 70h8v1h-8zM314 71h9v2h-9zM314 73h8v1h-8zM314 74h7v1h-7zM313 75h7v4h-7zM314 79h5v1h-5zM313 80h7v4h-7zM314 84h5v1h-5zM314 85h3v1h-3zM312 86h5v2h-5zM311 88h7v4h-7zM312 92h5v1h-5zM313 93h2v2h-2zM335 94h3v2h-3zM312 95h3v3h-3zM336 96h2v33h-2zM312 98h2v1h-2zM310 99h5v2h-5zM309 101h7v4h-7zM310 105h5v1h-5zM311 106h2v17h-2zM310 123h5v2h-5zM309 125h7v4h-7zM310 129h5v1h-5zM335 129h5v2h-5zM311 130h2v35h-2zM334 131h7v4h-7zM335 135h5v1h-5zM337 136h2v34h-2zM309 165h5v2h-5zM308 167h7v4h-7zM337 170h3v3h-3zM309 171h5v1h-5zM310 172h2v24h-2zM338 173h2v32h-2zM309 196h3v3h-3zM309 199h2v24h-2zM337 205h5v2h-5zM336 207h7v4h-7zM337 211h5v1h-5zM338 212h2v29h-2zM307 223h5v2h-5zM306 225h7v4h-7zM307 229h5v1h-5zM308 230h2v48h-2zM337 241h5v2h-5zM336 243h7v4h-7zM337 247h5v1h-5zM339 248h2v8h-2zM338 256h5v2h-5zM337 258h7v4h-7zM338 262h5v1h-5zM340 263h2v3h-2zM340 266h3v3h-3zM341 269h2v2h-2zM340 271h5v2h-5zM339 273h7v4h-7zM340 277h5v1h-5zM307 278h5v2h-5zM341 278h2v1h-2zM340 279h5v2h-5zM306 280h7v4h-7zM339 281h7v3h-7zM307 284h5v1h-5zM339 284h8v1h-8zM308 285h2v20h-2zM340 285h7v1h-7zM341 286h7v4h-7zM342 290h7v2h-7zM342 292h9v2h-9zM343 294h9v1h-9zM345 295h7v1h-7zM344 296h8v2h-8zM137 297h5v2h-5zM266 298h20v2h-20zM301 298h5v2h-5zM344 298h7v1h-7zM125 299h5v1h-5zM136 299h7v2h-7zM344 299h9v1h-9zM106 300h8v1h-8zM119 300h11v1h-11zM265 300h22v1h-22zM300 300h7v4h-7zM345 300h10v2h-10zM106 301h41v1h-41zM155 301h5v2h-5zM250 301h37v2h-37zM105 302h42v1h-42zM345 302h13v2h-13zM365 302h5v2h-5zM105 303h43v1h-43zM154 303h7v4h-7zM249 303h38v1h-38zM93 304h5v2h-5zM104 304h44v4h-44zM249 304h37v1h-37zM301 304h5v1h-5zM346 304h15v1h-15zM364 304h7v2h-7zM376 304h5v1h-5zM402 304h5v2h-5zM71 305h5v2h-5zM242 305h29v2h-29zM283 305h3v2h-3zM302 305h2v1h-2zM306 305h5v2h-5zM348 305h15v1h-15zM373 305h8v1h-8zM92 306h7v4h-7zM301 306h3v2h-3zM349 306h22v1h-22zM373 306h9v1h-9zM401 306h7v1h-7zM70 307h7v4h-7zM84 307h5v2h-5zM155 307h7v1h-7zM240 307h30v1h-30zM283 307h16v2h-16zM305 307h7v3h-7zM350 307h21v1h-21zM372 307h12v1h-12zM401 307h11v2h-11zM105 308h5v1h-5zM138 308h9v3h-9zM156 308h8v2h-8zM240 308h14v1h-14zM302 308h2v1h-2zM351 308h33v1h-33zM394 308h5v2h-5zM428 308h5v2h-5zM83 309h7v2h-7zM239 309h15v2h-15zM282 309h22v1h-22zM352 309h36v1h-36zM401 309h12v1h-12zM93 310h5v1h-5zM282 310h30v1h-30zM352 310h61v1h-61zM427 310h7v1h-7zM71 311h36v1h-36zM137 311h28v1h-28zM239 311h14v1h-14zM282 311h29v1h-29zM354 311h81v1h-81zM72 312h36v1h-36zM137 312h38v2h-38zM238 312h8v1h-8zM282 312h28v1h-28zM360 312h75v1h-75zM71 313h37v1h-37zM220 313h24v1h-24zM283 313h27v1h-27zM363 313h73v1h-73zM71 314h38v2h-38zM137 314h39v1h-39zM216 314h28v1h-28zM292 314h18v2h-18zM366 314h70v1h-70zM138 315h38v2h-38zM213 315h32v1h-32zM368 315h68v1h-68zM71 316h39v1h-39zM211 316h34v1h-34zM293 316h5v1h-5zM301 316h8v1h-8zM368 316h7v1h-7zM383 316h53v1h-53zM72 317h38v1h-38zM139 317h37v1h-37zM210 317h35v2h-35zM302 317h5v1h-5zM369 317h5v1h-5zM396 317h5v2h-5zM402 317h33v1h-33zM82 318h18v1h-18zM103 318h7v2h-7zM141 318h5v1h-5zM150 318h25v1h-25zM402 318h5v1h-5zM415 318h5v1h-5zM422 318h5v1h-5zM428 318h5v1h-5zM82 319h7v1h-7zM150 319h7v3h-7zM160 319h7v1h-7zM172 319h2v5h-2zM209 319h35v1h-35zM396 319h12v1h-12zM83 320h5v1h-5zM104 320h5v1h-5zM161 320h5v1h-5zM207 320h17v1h-17zM395 320h13v3h-13zM207 321h13v1h-13zM151 322h5v1h-5zM206 322h11v1h-11zM206 323h9v2h-9zM395 323h12v1h-12zM171 324h5v2h-5zM396 324h5v1h-5zM205 325h9v1h-9zM170 326h7v4h-7zM205 326h7v3h-7zM204 329h7v2h-7zM171 330h6v1h-6zM171 331h7v3h-7zM203 331h8v2h-8zM202 333h8v4h-8zM171 334h11v1h-11zM172 335h10v1h-10zM174 336h9v1h-9zM173 337h13v2h-13zM203 337h6v1h-6zM204 338h2v9h-2zM172 339h15v4h-15zM173 343h13v1h-13zM175 344h12v2h-12zM196 345h5v1h-5zM176 346h25v1h-25zM177 347h30v2h-30zM177 349h31v2h-31zM178 351h30v1h-30zM183 352h25v1h-25zM195 353h12v1h-12z"/>
<path fill="#ff0000" d="M94 306h2v2h-2zM370 307h2v2h-2zM112 309h28v1h-28zM152 309h4v1h-4zM218 309h19v1h-19zM241 309h2v1h-2zM251 309h43v1h-43zM295 309h2v1h-2zM300 309h4v1h-4zM308 309h2v1h-2zM338 309h2v1h-2zM347 309h9v1h-9zM364 309h4v1h-4zM375 309h2v1h-2zM379 309h3v1h-3zM402 309h2v1h-2zM408 309h2v1h-2zM72 310h310v1h-310zM384 310h13v1h-13zM399 310h5v1h-5zM406 310h27v1h-27zM72 311h42v1h-42zM140 311h80v1h-80zM235 311h19v1h-19zM294 311h55v1h-55zM354 311h10v1h-10zM367 311h9v1h-9zM377 311h2v1h-2zM382 311h20v1h-20zM404 311h4v1h-4zM410 311h23v1h-23zM382 312h2v1h-2zM397 312h2v1h-2zM404 312h2v1h-2z"/>
<rect x="81.5" y="21.5" width="154" height="40" fill="#fff"/>
<path fill="#000" d="M81 21h155v1h-155zM81 22h1v39h-1zM235 22h1v39h-1zM104 31h5v2h-5zM88 33h36v2h-36zM103 35h7v2h-7zM104 37h5v1h-5zM81 61h155v1h-155z"/>
<path fill="#ff0000" d="M88 47h36v2h-36z"/>
</g>
<defs><filter id="fk" filterUnits="userSpaceOnUse" x="0" y="0" width="2396" height="2287" color-interpolation-filters="sRGB"><feOffset in="SourceGraphic" dx="-4.5" dy="0" result="l"/><feFlood flood-color="#ffba6e" result="lc"/><feComposite in="lc" in2="l" operator="in" result="lf"/><feOffset in="SourceGraphic" dx="4.5" dy="0" result="r"/><feFlood flood-color="#00aaff" result="rc"/><feComposite in="rc" in2="r" operator="in" result="rf"/><feMerge><feMergeNode in="lf"/><feMergeNode in="rf"/><feMergeNode in="SourceGraphic"/></feMerge></filter><filter id="fkb" filterUnits="userSpaceOnUse" x="0" y="0" width="2396" height="2287" color-interpolation-filters="sRGB"><feMorphology in="SourceGraphic" operator="erode" radius="1" result="e"/><feOffset in="e" dx="-4.5" dy="0" result="l"/><feFlood flood-color="#ffba6e" result="lc"/><feComposite in="lc" in2="l" operator="in" result="lf"/><feOffset in="e" dx="4.5" dy="0" result="r"/><feFlood flood-color="#00aaff" result="rc"/><feComposite in="rc" in2="r" operator="in" result="rf"/><feMerge><feMergeNode in="lf"/><feMergeNode in="rf"/><feMergeNode in="e"/></feMerge></filter><filter id="fr" filterUnits="userSpaceOnUse" x="0" y="0" width="2396" height="2287" color-interpolation-filters="sRGB"><feOffset in="SourceGraphic" dx="-4.5" dy="0" result="l"/><feFlood flood-color="#ffb464" result="lc"/><feComposite in="lc" in2="l" operator="in" result="lf"/><feOffset in="SourceGraphic" dx="4.5" dy="0" result="r"/><feFlood flood-color="#ffb4ff" result="rc"/><feComposite in="rc" in2="r" operator="in" result="rf"/><feMerge><feMergeNode in="lf"/><feMergeNode in="rf"/><feMergeNode in="SourceGraphic"/></feMerge></filter><filter id="fb" filterUnits="userSpaceOnUse" x="0" y="0" width="2396" height="2287" color-interpolation-filters="sRGB"><feOffset in="SourceGraphic" dx="-4.5" dy="0" result="l"/><feFlood flood-color="#ffc8eb" result="lc"/><feComposite in="lc" in2="l" operator="in" result="lf"/><feOffset in="SourceGraphic" dx="4.5" dy="0" result="r"/><feFlood flood-color="#50dcff" result="rc"/><feComposite in="rc" in2="r" operator="in" result="rf"/><feMerge><feMergeNode in="lf"/><feMergeNode in="rf"/><feMergeNode in="SourceGraphic"/></feMerge></filter></defs>
<g fill="#000" filter="url(#fkb)"><text transform="translate(0,81.86) scale(0.8600,1)" font-family="Liberation Sans, Arial, Helvetica, sans-serif" font-weight="bold" font-size="76.6"><tspan letter-spacing="7.78" x="175.62" y="0">0.025</tspan></text>
<text transform="translate(0,409.15) scale(0.8600,1)" font-family="Liberation Sans, Arial, Helvetica, sans-serif" font-weight="bold" font-size="76.6"><tspan letter-spacing="7.87" x="226.78" y="0">0.02</tspan></text>
<text transform="translate(0,736.45) scale(0.8600,1)" font-family="Liberation Sans, Arial, Helvetica, sans-serif" font-weight="bold" font-size="76.6"><tspan letter-spacing="7.93" x="175.62" y="0">0.015</tspan></text>
<text transform="translate(0,1063.75) scale(0.8600,1)" font-family="Liberation Sans, Arial, Helvetica, sans-serif" font-weight="bold" font-size="76.6"><tspan letter-spacing="3.60" x="226.43" y="0">0.01</tspan></text>
<text transform="translate(0,1391.06) scale(0.8600,1)" font-family="Liberation Sans, Arial, Helvetica, sans-serif" font-weight="bold" font-size="76.6"><tspan letter-spacing="7.63" x="176.43" y="0">0.005</tspan></text>
<text transform="translate(0,1718.36) scale(0.8600,1)" font-family="Liberation Sans, Arial, Helvetica, sans-serif" font-weight="bold" font-size="76.6"><tspan textLength="46.75" lengthAdjust="spacingAndGlyphs" x="353.24" y="0">0</tspan></text>
<text transform="translate(0,2045.65) scale(0.8600,1)" font-family="Liberation Sans, Arial, Helvetica, sans-serif" font-weight="bold" font-size="76.6"><tspan letter-spacing="6.71" x="147.71" y="0">-0.005</tspan></text>
<text transform="translate(0,2138.39) scale(0.8600,1)" font-family="Liberation Sans, Arial, Helvetica, sans-serif" font-weight="bold" font-size="76.6"><tspan textLength="47.43" lengthAdjust="spacingAndGlyphs" x="435.06" y="0">0</tspan></text>
<text transform="translate(0,2138.39) scale(0.8600,1)" font-family="Liberation Sans, Arial, Helvetica, sans-serif" font-weight="bold" font-size="76.6"><tspan textLength="45.66" lengthAdjust="spacingAndGlyphs" x="956.26" y="0">5</tspan></text>
<text transform="translate(0,2138.39) scale(0.8600,1)" font-family="Liberation Sans, Arial, Helvetica, sans-serif" font-weight="bold" font-size="76.6"><tspan letter-spacing="6.35" x="1455.79" y="0">10</tspan></text>
<text transform="translate(0,2138.39) scale(0.8600,1)" font-family="Liberation Sans, Arial, Helvetica, sans-serif" font-weight="bold" font-size="76.6"><tspan letter-spacing="8.42" x="1967.89" y="0">15</tspan></text>
<text transform="translate(0,2138.39) scale(0.8600,1)" font-family="Liberation Sans, Arial, Helvetica, sans-serif" font-weight="bold" font-size="76.6"><tspan letter-spacing="7.20" x="2487.63" y="0">20</tspan></text>
<text transform="translate(0,2252.95) scale(0.8600,1)" font-family="Liberation Sans, Arial, Helvetica, sans-serif" font-weight="bold" font-size="78.0"><tspan letter-spacing="7.43" x="1358.17" y="0">Time</tspan> <tspan letter-spacing="7.03" x="1590.48" y="0">(mins)</tspan></text>
<text transform="translate(84.50,0) rotate(-90) scale(0.8600,1)" font-family="Liberation Sans, Arial, Helvetica, sans-serif" font-weight="bold" font-size="78.0"><tspan letter-spacing="7.20" x="-1689.24" y="0">Sensor</tspan> <tspan letter-spacing="8.40" x="-1361.93" y="0">Response</tspan> <tspan letter-spacing="5.05" x="-897.43" y="0">(V)</tspan></text></g>
<g fill="#000" filter="url(#fk)"><text transform="translate(0,212.78) scale(0.9000,1)" font-family="Liberation Sans, Arial, Helvetica, sans-serif" font-size="70.0"><tspan textLength="292.32" lengthAdjust="spacingAndGlyphs" x="775.96" y="0">YSZ/STO</tspan> <tspan letter-spacing="0.21" x="1090.60" y="0">Thin</tspan> <tspan letter-spacing="2.19" x="1251.73" y="0">Film</tspan></text>
<text transform="translate(0,851.01) scale(0.9000,1)" font-family="Liberation Sans, Arial, Helvetica, sans-serif" font-size="70.0"><tspan textLength="31.80" lengthAdjust="spacingAndGlyphs" x="496.52" y="0">0</tspan> <tspan textLength="103.40" lengthAdjust="spacingAndGlyphs" x="559.58" y="0">uA,</tspan> <tspan letter-spacing="0.68" x="685.87" y="0">500</tspan> <tspan letter-spacing="6.25" x="831.19" y="0">sccm,</tspan> <tspan letter-spacing="0.98" x="1061.17" y="0">200</tspan> <tspan textLength="18.54" lengthAdjust="spacingAndGlyphs" x="1187.08" y="-38.69" font-size="46.5" stroke="#000" stroke-width="1.4">0</tspan> <tspan textLength="64.16" lengthAdjust="spacingAndGlyphs" x="1223.90" y="0">C,</tspan> <tspan letter-spacing="1.71" x="1308.72" y="0">25</tspan> <tspan letter-spacing="7.22" x="1409.51" y="0">ppm</tspan> <tspan letter-spacing="2.37" x="1582.36" y="0">all</tspan> <tspan letter-spacing="4.08" x="1679.53" y="0">gases</tspan></text></g>
<g fill="#ff0000" filter="url(#fr)"><text transform="translate(0,289.14) scale(0.9000,1)" font-family="Liberation Sans, Arial, Helvetica, sans-serif" font-size="70.0"><tspan textLength="125.55" lengthAdjust="spacingAndGlyphs" x="776.04" y="0">YSZ</tspan> <tspan letter-spacing="0.54" x="926.71" y="0">Thin</tspan> <tspan letter-spacing="2.19" x="1086.40" y="0">Film</tspan></text></g>
<g fill="#0000dc" filter="url(#fb)"><text transform="translate(0,1822.00) scale(0.9000,1)" font-family="Liberation Sans, Arial, Helvetica, sans-serif" font-size="70.0"><tspan textLength="101.76" lengthAdjust="spacingAndGlyphs" x="687.57" y="0">NO</tspan></text>
<text transform="translate(0,1592.89) scale(0.9000,1)" font-family="Liberation Sans, Arial, Helvetica, sans-serif" font-size="70.0"><tspan textLength="96.42" lengthAdjust="spacingAndGlyphs" x="1116.08" y="0">NO</tspan><tspan textLength="21.61" lengthAdjust="spacingAndGlyphs" x="1216.39" y="38.18" font-size="47.0" stroke="#0000dc" stroke-width="1.4">2</tspan></text>
<text transform="translate(0,1838.37) scale(0.9000,1)" font-family="Liberation Sans, Arial, Helvetica, sans-serif" font-size="70.0"><tspan textLength="97.79" lengthAdjust="spacingAndGlyphs" x="1578.47" y="0">NH</tspan><tspan textLength="19.12" lengthAdjust="spacingAndGlyphs" x="1678.49" y="38.18" font-size="47.0" stroke="#0000dc" stroke-width="1.4">3</tspan></text>
<text transform="translate(0,272.78) scale(0.9000,1)" font-family="Liberation Sans, Arial, Helvetica, sans-serif" font-size="70.0"><tspan textLength="44.48" lengthAdjust="spacingAndGlyphs" x="1720.03" y="0">C</tspan><tspan textLength="18.86" lengthAdjust="spacingAndGlyphs" x="1769.84" y="38.19" font-size="47.0" stroke="#0000dc" stroke-width="1.4">3</tspan><tspan textLength="49.50" lengthAdjust="spacingAndGlyphs" x="1790.29" y="0">H</tspan><tspan textLength="20.58" lengthAdjust="spacingAndGlyphs" x="1841.37" y="38.19" font-size="47.0" stroke="#0000dc" stroke-width="1.4">6</tspan></text>
<text transform="translate(0,1614.71) scale(0.9000,1)" font-family="Liberation Sans, Arial, Helvetica, sans-serif" font-size="70.0"><tspan textLength="99.47" lengthAdjust="spacingAndGlyphs" x="2332.35" y="0">CO</tspan></text></g>
</svg>
</body>
</html>
